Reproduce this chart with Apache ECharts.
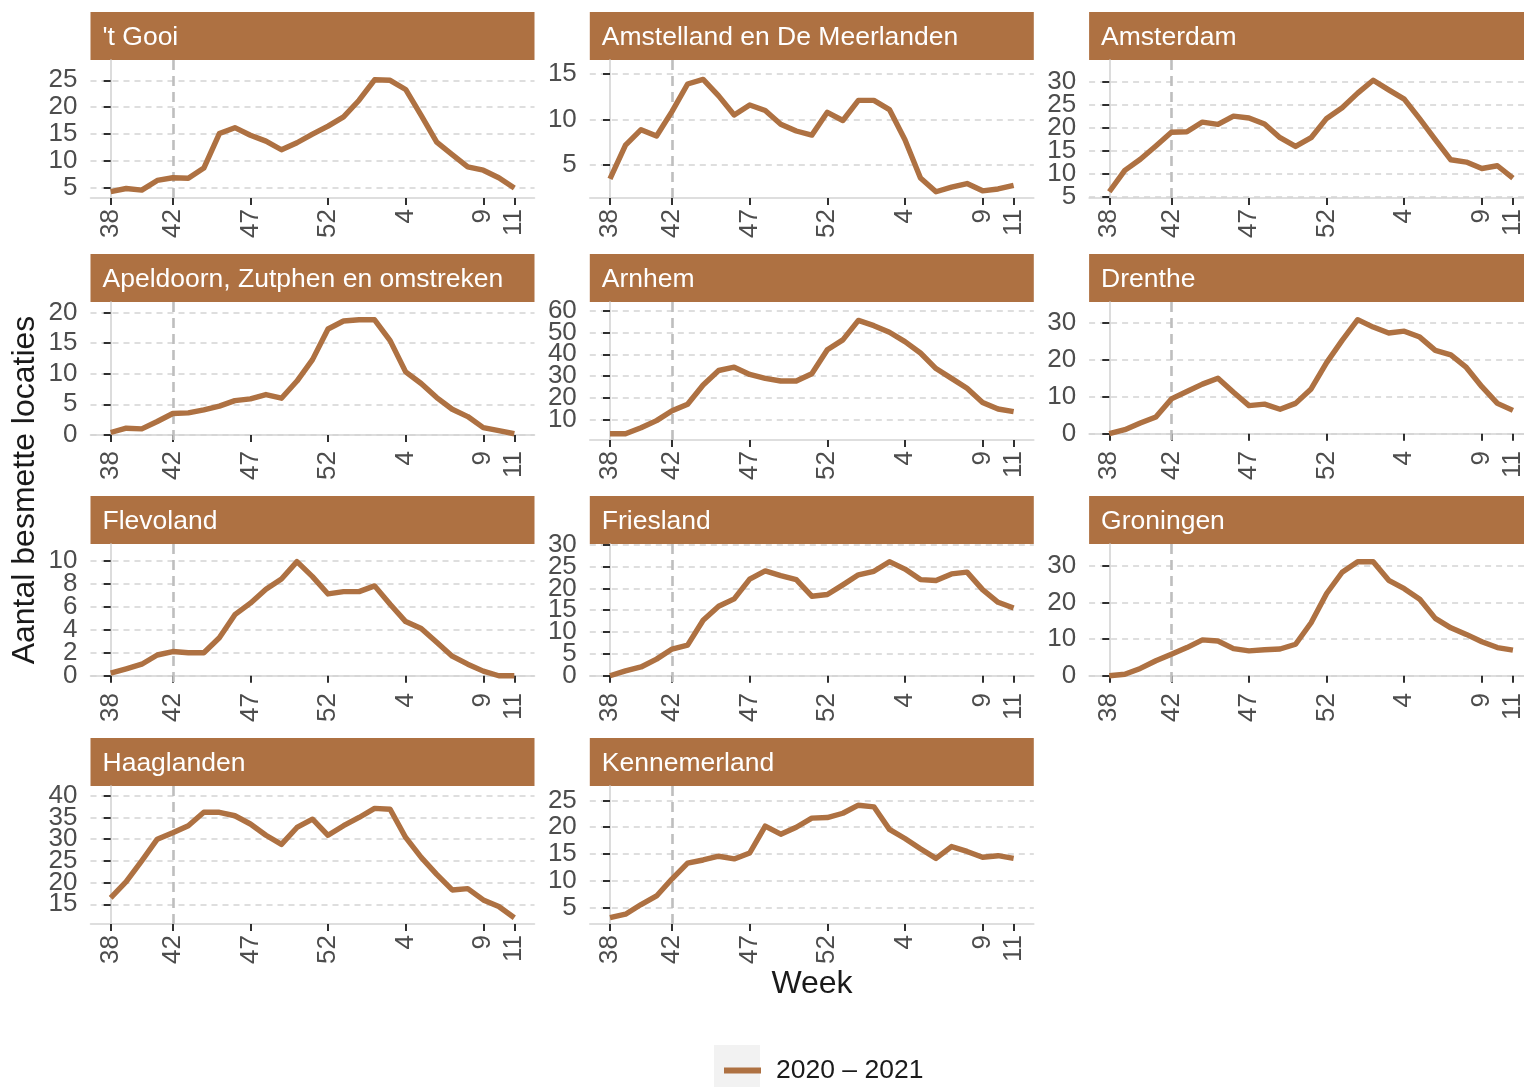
<!DOCTYPE html>
<html>
<head>
<meta charset="utf-8">
<script src="https://cdn.jsdelivr.net/npm/echarts@6/dist/echarts.min.js"></script>
<style>
  html, body { margin: 0; padding: 0; background: #ffffff; }
  #chart { width: 1524px; height: 1087px; }
</style>
</head>
<body>
<div id="chart"></div>
<script>
// Weeks 38 (2020) through 11 (2021); 2020 has a week 53
const weeks = ['38','39','40','41','42','43','44','45','46','47','48','49','50','51','52','53',
               '1','2','3','4','5','6','7','8','9','10','11'];
const tickWeeks = ['38','42','47','52','4','9','11'];
const markerWeek = '42';
const seriesName = '2020 \u2013 2021';

const regions = ["'t Gooi", 'Amstelland en De Meerlanden', 'Amsterdam',
                 'Apeldoorn, Zutphen en omstreken', 'Arnhem', 'Drenthe',
                 'Flevoland', 'Friesland', 'Groningen',
                 'Haaglanden', 'Kennemerland'];

// Number of infected locations per week, per region
const tGooi        = [4.3,4.9,4.6,6.4,6.9,6.8,8.7,15.1,16.2,14.8,13.7,12.1,13.4,15.0,16.5,18.2,21.3,25.1,25.0,23.3,18.5,13.5,11.2,8.9,8.3,6.9,5.0];
const amstelland   = [3.5,7.2,8.9,8.2,10.9,13.9,14.4,12.6,10.5,11.6,11.0,9.5,8.75,8.3,10.8,9.9,12.1,12.1,11.1,7.8,3.6,2.1,2.6,3.0,2.2,2.4,2.8];
const amsterdam    = [6.15,10.8,13.2,16.1,19.1,19.2,21.3,20.8,22.6,22.2,20.9,17.9,16.0,17.9,22.1,24.4,27.6,30.4,28.3,26.3,22.0,17.5,13.1,12.6,11.2,11.8,9.1];
const apeldoorn    = [0.4,1.1,1.0,2.2,3.5,3.6,4.1,4.7,5.6,5.9,6.6,6.0,8.8,12.3,17.3,18.6,18.8,18.8,15.4,10.3,8.4,6.1,4.2,3.0,1.2,0.7,0.2];
const arnhem       = [3.7,3.7,6.4,9.7,14.2,17.2,26.0,32.6,34.1,30.8,29.0,27.8,27.8,31.1,42.1,46.6,55.5,53.1,50.1,45.8,40.6,33.5,29.0,24.5,18.0,15.0,13.8];
const drenthe      = [0,1.1,2.9,4.5,9.4,11.4,13.4,15.0,11.2,7.6,8.0,6.6,8.2,12.1,19.2,25.2,30.8,28.8,27.2,27.7,26.1,22.5,21.3,17.9,12.7,8.2,6.3];
const flevoland    = [0.23,0.6,1.0,1.8,2.1,2.0,2.0,3.3,5.3,6.3,7.5,8.4,9.9,8.6,7.1,7.3,7.3,7.8,6.2,4.7,4.1,2.9,1.7,1.0,0.4,0,0];
const friesland    = [0,1.1,2.0,3.8,6.1,7.0,12.7,15.9,17.6,22.1,24.0,22.9,22.0,18.2,18.6,20.8,23.1,23.9,26.1,24.4,22.0,21.8,23.3,23.7,19.7,16.8,15.5];
const groningen    = [0,0.4,2.0,4.1,5.9,7.7,9.8,9.5,7.4,6.8,7.1,7.3,8.6,14.5,22.5,28.3,31.2,31.2,26.1,23.8,20.9,15.7,13.1,11.3,9.3,7.7,7.0];
const haaglanden   = [16.5,20.2,25.0,30.0,31.5,33.1,36.2,36.2,35.4,33.5,30.9,28.8,32.7,34.6,30.9,33.1,35.0,37.1,36.9,30.4,25.8,21.9,18.3,18.6,16.0,14.5,11.9];
const kennemerland = [3.15,3.8,5.6,7.2,10.4,13.3,13.9,14.6,14.1,15.2,20.2,18.7,20.0,21.7,21.8,22.6,24.1,23.8,19.6,17.9,16.0,14.2,16.4,15.5,14.4,14.7,14.2];

const regionValues = [tGooi, amstelland, amsterdam, apeldoorn, arnhem, drenthe,
                      flevoland, friesland, groningen, haaglanden, kennemerland];

// Spacing between y-axis breaks for each region
const yBreakSteps = [5, 5, 5, 5, 10, 10, 2, 5, 10, 5, 5];

// ---- layout ----
const FONT = "'Liberation Sans', Arial, sans-serif";
const LINE_COLOR = '#AE7142';
const colLeft = [90.5, 589.8, 1089.1];
const plotW = 444;
const plotH = 138;
const firstTop = 60;
const rowStep = 242;
const stripH = 48;

const tickIdx = tickWeeks.map(w => weeks.indexOf(w));
const markerIdx = weeks.indexOf(markerWeek);
const xPad = (weeks.length - 1) * 0.05;

const yLabelStyle = {
  margin: 13, showMinLabel: true, showMaxLabel: true, hideOverlap: false,
  color: '#4D4D4D', fontSize: 26, fontFamily: FONT
};

const grids = [], xAxes = [], yAxes = [], series = [], graphics = [];

regions.forEach((name, k) => {
  const col = k % 3, row = Math.floor(k / 3);
  const left = colLeft[col];
  const top = firstTop + row * rowStep;
  const vals = regionValues[k];

  // y range: headroom of 10% above the peak, then 5% padding on both sides
  const lo = Math.min(...vals);
  const hi = Math.max(...vals) * 1.1;
  const span = hi - lo;
  const yMin = lo - span * 0.05;
  const yMax = hi + span * 0.05;
  const step = yBreakSteps[k];
  const breaks = [];
  for (let v = Math.ceil(yMin / step) * step; v <= yMax + 1e-9; v += step) breaks.push(Math.round(v * 100) / 100);
  // labels are split over two stacked axes so that tightly spaced breaks all stay visible
  const evenBreaks = breaks.filter((_, i) => i % 2 === 0);
  const oddBreaks = breaks.filter((_, i) => i % 2 === 1);

  grids.push({ left: left, top: top, width: plotW, height: plotH, outerBoundsMode: 'none', containLabel: false });

  xAxes.push({
    type: 'value', gridIndex: k,
    min: -xPad, max: weeks.length - 1 + xPad,
    axisLine: { show: true, lineStyle: { color: '#D4D4D4', width: 1.6 } },
    axisTick: { show: true, customValues: tickIdx, length: 7, lineStyle: { color: '#1a1a1a', width: 1.8 } },
    axisLabel: {
      customValues: tickIdx, rotate: 90, margin: 11,
      showMinLabel: true, showMaxLabel: true, hideOverlap: false,
      formatter: v => weeks[Math.round(v)],
      color: '#4D4D4D', fontSize: 26, fontFamily: FONT
    },
    splitLine: { show: false }
  });

  // main y axis: line, all ticks, grid lines and every other label
  yAxes.push({
    type: 'value', gridIndex: k, position: 'left',
    min: yMin, max: yMax,
    axisLine: { show: true, lineStyle: { color: '#D4D4D4', width: 1.6 } },
    axisTick: { show: true, customValues: breaks, length: 7, lineStyle: { color: '#1a1a1a', width: 1.8 } },
    axisLabel: Object.assign({ customValues: evenBreaks }, yLabelStyle),
    splitLine: { show: true, lineStyle: { color: '#D3D3D3', width: 1.5, type: [6, 5] } }
  });
  // companion y axis carrying the remaining labels
  yAxes.push({
    type: 'value', gridIndex: k, position: 'left', offset: 0,
    min: yMin, max: yMax,
    axisLine: { show: false },
    axisTick: { show: false, customValues: oddBreaks },
    axisLabel: Object.assign({ customValues: oddBreaks, show: oddBreaks.length > 0 }, yLabelStyle),
    splitLine: { show: false }
  });

  series.push({
    name: seriesName, type: 'line',
    xAxisIndex: k, yAxisIndex: 2 * k,
    data: vals.map((v, i) => [i, v]),
    symbol: 'none', color: LINE_COLOR,
    lineStyle: { color: LINE_COLOR, width: 5.4, join: 'round' },
    animation: false, silent: true,
    markLine: {
      silent: true, symbol: ['none', 'none'], animation: false, z: 1,
      label: { show: false },
      lineStyle: { color: '#BEBEBE', width: 2.6, type: [10, 6] },
      data: [{ xAxis: markerIdx }]
    }
  });

  // facet strip
  graphics.push({
    type: 'rect', shape: { x: left, y: top - stripH, width: plotW, height: stripH },
    style: { fill: LINE_COLOR }, silent: true
  });
  graphics.push({
    type: 'text', x: left + 12, y: top - stripH / 2 + 2,
    style: { text: name, fill: '#ffffff', font: '26.5px ' + FONT, verticalAlign: 'middle', align: 'left' },
    silent: true
  });
});

// axis titles
graphics.push({
  type: 'text', x: 25, y: 490, rotation: Math.PI / 2,
  style: { text: 'Aantal besmette locaties', fill: '#1a1a1a', font: '32px ' + FONT, align: 'center', verticalAlign: 'middle' },
  silent: true
});
graphics.push({
  type: 'text', x: 812, y: 984,
  style: { text: 'Week', fill: '#1a1a1a', font: '32px ' + FONT, align: 'center', verticalAlign: 'middle' },
  silent: true
});
// legend key background
graphics.push({
  type: 'rect', z: -10, shape: { x: 714, y: 1045, width: 46, height: 46 },
  style: { fill: '#F2F2F2' }, silent: true
});

const chart = echarts.init(document.getElementById('chart'), null, { renderer: 'canvas' });
chart.setOption({
  backgroundColor: '#ffffff',
  animation: false,
  grid: grids,
  xAxis: xAxes,
  yAxis: yAxes,
  series: series,
  legend: {
    data: [seriesName], left: 719, top: 1052,
    icon: 'rect', itemWidth: 37, itemHeight: 6, selectedMode: false,
    textStyle: { color: '#1a1a1a', fontSize: 26.5, fontFamily: FONT, padding: [0, 0, 0, 10] }
  },
  graphic: graphics
});
</script>
</body>
</html>
